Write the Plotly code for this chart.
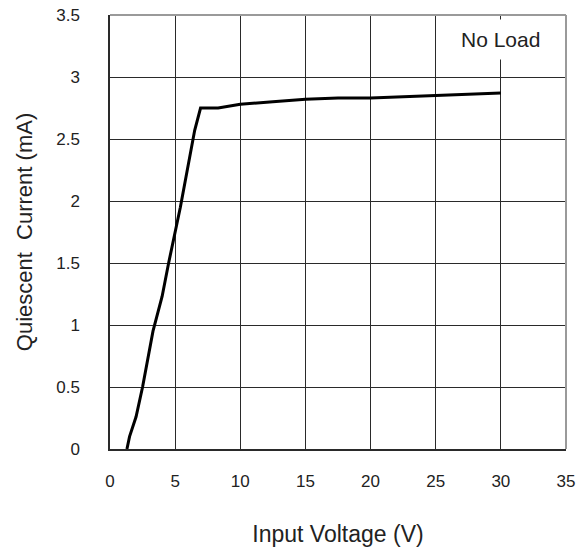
import plotly.graph_objects as go

# Input voltage (V) and quiescent current (mA)
voltage = [1.3, 1.5, 2.0, 2.5, 3.3, 4.0, 4.5, 5.4, 6.5, 6.85, 6.95, 8.3, 10.0, 12.5, 15.0, 17.5, 20.0, 25.0, 30.0]
current = [0.0, 0.1, 0.26, 0.5, 0.95, 1.23, 1.5, 1.95, 2.57, 2.72, 2.75, 2.75, 2.78, 2.8, 2.82, 2.83, 2.83, 2.85, 2.87]

x_ticks = [0, 5, 10, 15, 20, 25, 30, 35]
x_tick_labels = ["0", "5", "10", "15", "20", "25", "30", "35"]
y_ticks = [0, 0.5, 1, 1.5, 2, 2.5, 3, 3.5]
y_tick_labels = ["0", "0.5", "1", "1.5", "2", "2.5", "3", "3.5"]

x_title = "Input Voltage (V)"
y_title = "Quiescent  Current (mA)"
note = "No Load"

FONT = "Liberation Sans, Arial, sans-serif"
GRID = "#2a2a2a"
TXT = "#222222"

fig = go.Figure()
fig.add_trace(go.Scatter(
    x=voltage, y=current, mode="lines",
    line=dict(color="#000000", width=3),
    showlegend=False, hoverinfo="skip",
))

fig.update_layout(
    width=588, height=547,
    margin=dict(l=110, r=22, t=15, b=98, autoexpand=False),
    paper_bgcolor="white", plot_bgcolor="white",
    font=dict(family=FONT, color=TXT),
    showlegend=False,
)

fig.update_xaxes(
    range=[0, 35], tickvals=x_ticks, ticktext=x_tick_labels,
    showgrid=True, gridcolor=GRID, gridwidth=1.3,
    zeroline=False, showline=True, linecolor=GRID, linewidth=1.5,
    ticks="", ticklabelstandoff=16, automargin=False,
    tickfont=dict(size=17, color=TXT, family=FONT),
    title=dict(text=x_title, font=dict(size=23, color=TXT, family=FONT), standoff=36),
)
fig.update_yaxes(
    range=[0, 3.5], tickvals=y_ticks, ticktext=y_tick_labels,
    showgrid=True, gridcolor=GRID, gridwidth=1.3,
    zeroline=False, showline=True, linecolor=GRID, linewidth=1.5,
    ticks="", ticklabelstandoff=25, automargin=False,
    tickfont=dict(size=17, color=TXT, family=FONT),
    title=dict(text=y_title, font=dict(size=22, color=TXT, family=FONT), standoff=18),
)

# lighter top and right frame
fig.add_shape(type="line", xref="paper", yref="paper", x0=0, x1=1, y0=1, y1=1,
              line=dict(color="#9a9a9a", width=2))
fig.add_shape(type="line", xref="paper", yref="paper", x0=1, x1=1, y0=0, y1=1,
              line=dict(color="#9a9a9a", width=2))

fig.add_annotation(
    x=30, y=3.3, xref="x", yref="y", text=note, showarrow=False,
    font=dict(size=21, color=TXT, family=FONT),
    bgcolor="white", borderpad=8,
)

fig.write_html("out.html")
